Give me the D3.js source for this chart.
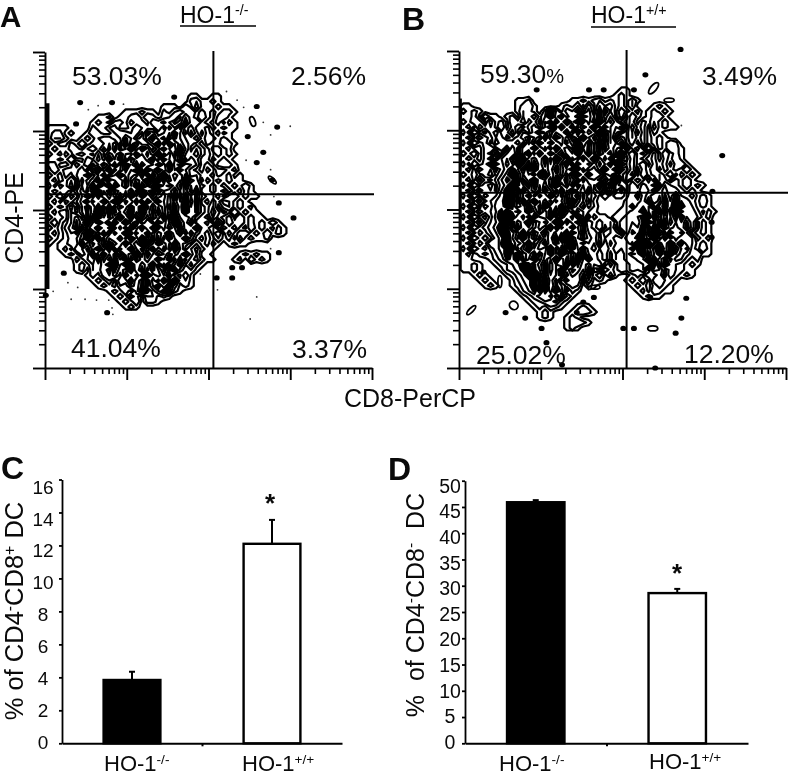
<!DOCTYPE html>
<html><head><meta charset="utf-8">
<script src="https://cdn.jsdelivr.net/npm/d3@7/dist/d3.min.js"></script>
<style>html,body{margin:0;padding:0;background:#fff}svg{display:block;filter:blur(.35px)}text{font-family:"Liberation Sans",Arial,sans-serif;fill:#0a0a0a}</style>
</head><body><svg id="c" width="788" height="776"></svg>
<script>
// ---------- flow cytometry density grids (digit = relative density per cell)
const gridA=[
"",
"00000000000000000000000000110011",
"00000000000000000000000000231121",
"0000000000000000000001110314111211",
"00000000000000111211021352312101221",
"0000000001120112313212351521310231",
"00000000121022142215463127231012021",
"11110000211341125322516372411201211",
"12201001321135434176233851620212010",
"13310012134423751268461753241221210",
"21002131223361847225918364210211321",
"12112213526271394861473295131022120",
"21021342151647328574926183241012121",
"11213114362958174369285371420021210",
"22001425137482961735849216530102321",
"13122250694813758296147385210210012",
"210213472581396427185936472311201201",
"1201316249175382649718253964021212110",
"20214053816294738152967418352101012131",
"121103627958143729681547362811012010210",
"2130215948362719583746291857311202312110",
"1202136175948263917485263948102143121",
"21214058392716485927361849572130231212",
"120031574928136859471628395721420131211",
"2110362819574938162748195362103124131211",
"1301374951628394715286397481120415231212131",
"21024816395726184937261584391130424103121021",
"12013159748263917582649381721025141231213121",
"21012368491537284961728539412013120412112",
"1011329475186394271586394213102101211",
"0012053168492759316847295136211",
"00012142938571649285137648251100000121211",
"00000213406285917463958271462110001203121",
"00000121324795183649271583621",
"0000012032517469382751694231",
"000000012143628571946382151",
"000000001213054937162849231",
"000000000121032647159384121",
"00000000000121304962587210",
"00000000000012142033121",
"000000000000012130221",
"00000000000000121"];
const gridB=[
"00000000000000000000000000000110",
"0000000000000000000000000000121",
"0000000000112000000011212312121310",
"110000000012310000121304153412130001210",
"2121000000132102951437261803152120121210",
"112031101203241394725186372514031012310",
"2132041203241205173948261937401202131210",
"1204231302102415928371649285360412041211",
"2031024114031496253817264915201302021",
"12042132012475193862749316050213120121",
"2031204232417295836149372815361202012132",
"12002313041659371846295738142061203021321",
"213021403516928374165938274619251202031210",
"121024035179463829517483926150141012021310",
"2031204263951847362918574138062413021202310",
"12042302485179364825917462839014021302121310",
"21012413697351894627183956240136031231302121",
"12041025768149352967418352619041214032021310",
"203124146975183629471856392710031424053213121",
"12042315871946285173964825061403253046342121",
"2031423679158263947158264131221304253748324121",
"1204135687194836275196372111112324052859342131",
"2031426597248319658274163111113043516769053121",
"12042358167395148296175321111324405718296342021",
"2031026879361954827361504221324358192637054312",
"1204135781649257391846052423143547961825374021",
"2031246971835264917583042513043658291746384021",
"1202135876291748365914035143204768196285730121",
"2031214695183726491873024132436587491726353012",
"1202153786429158376194635041354719826394843121",
"2031024679158364927185046352435187269481572131",
"1201213586924715839627034241324769158293642311",
"11000124768159263847195052413243651947265212",
"11210012356971482539174635041324356829432121",
"1121000134679138259476381052132435065143211",
"0012100012468917358264172514100121324052121",
"0001210001356829471635051210001213043321",
"0000121001246819375243021000000121024210",
"0000000000135718496021000000000012032110",
"00000000000124657183100000000000012110",
"00000000000012354621",
"000000000000012132100121",
"0000000000000012100012321",
"00000000000000121001210",
"000000000000000000012321",
"00000000000000000001210"];
const contourLevels=[0.5,1.5,3,5,6.5];
const solidLevel=6.5;
// isolated events, log10 units [CD8, CD4]
const blobsA=[[.43,3.36],[.82,3.36],[1.58,3.43],[2.59,3.31],[.38,3.09],[2.84,3.05],[2.48,2.93],[2.67,2.73],[2.59,2.6],[2.78,2.38],[2.86,2.09],[3.04,1.9],[2.86,1.46],[2.29,1.27],[2.41,1.27],[2.29,1.14],[2.1,1.14],[.23,1.2],[.76,.7],[.01,.92]];
const specksA=[[.53,3.27],[.65,3.32],[.96,3.34],[2.22,3.5],[2.35,3.39],[2.43,3.3],[2.67,3.11],[3,3.06],[2.76,2.95],[2.46,2.63],[2.76,2.51],[2.8,2.17],[2.76,1.51],[1.9,1.19],[1.82,1.21],[1.94,1.35],[2.11,.99],[2.59,.9],[2.51,.62],[.82,.76],[.83,.68],[.78,.86],[.63,.86],[.49,.87],[.32,.87],[.4,1.02],[.28,1.08],[.1,.97]];
const blobsB=[[2.71,4.02],[2.28,3.7],[.95,3.51],[1.59,3.51],[1.77,3.51],[2.14,3.51],[3.22,2.68],[3.1,2.23],[3.09,1.84],[3.09,1.65],[2.78,.88],[2.34,.89],[2.72,.63],[2.65,.44],[2.01,.5],[2.14,.5],[1.65,.89],[1.52,.83],[1.44,.7],[1.01,.5],[.81,.63],[.57,.7],[.3,1.21],[.24,2.03],[1.26,.04],[2.4,0],[1.07,.32]];
const specksB=[[2.72,3.06]];
const ovalsB=[[2.38,3.53,7,3,-50],[2.57,3.38,5,2,0],[2.37,.5,5,2.5,0],[1.67,1.02,4.5,2,0],[.15,.73,6,2,-45],[.5,1.09,2,6,0],[.67,.79,4.5,4,40]];
const ovalsA=[[2.54,3.12,2.5,5,-20],[2.78,2.38,5,2,45]];
const pileA=[[.03,3.35],[.03,1.0]], pileB=[[.02,3.4],[.02,2.6]];
const decades=[1,10,100,1000,10000];
const minorMult=[2,3,4,5,6,7,8,9];
const quadA=[2.06,2.2], quadB=[2.05,2.21];
const pctA=["53.03%","2.56%","41.04%","3.37%"], pctB=["59.30","3.49%","25.02%","12.20%"];
// ---------- bars
const groups=["HO-1-/-","HO-1+/+"];
const valuesC=[3.84,12.1], errC=[.5,1.45], ticksC=[0,2,4,6,8,10,12,14,16];
const valuesD=[45.9,28.6], errD=[.4,.8], ticksD=[0,5,10,15,20,25,30,35,40,45,50];

const svg=d3.select("#c");
function txt(parts,x,y,size,opt={}){
  const t=svg.append("text").attr("x",x).attr("y",y).attr("font-size",size)
    .attr("font-weight",opt.bold?"bold":null).attr("text-anchor",opt.anchor||"start");
  if(opt.rot!=null)t.attr("transform",`rotate(${opt.rot} ${x} ${y})`);
  let up=false;
  parts.forEach(p=>{const s=Array.isArray(p);const sp=t.append("tspan").text(s?p[0]:p);
    if(s){sp.attr("font-size",size*.62).attr("dy",-size*.33);up=true;}
    else if(up){sp.attr("dy",size*.33);up=false;}});
  return t;
}
function flow(cfg){
  const x=d3.scaleLog().domain([1,1e4]).range(cfg.xr), y=d3.scaleLog().domain([1,1e4]).range(cfg.yr);
  const g=svg.append("g");
  const n=cfg.cols,m=cfg.grid.length,step=1/15;
  const vals=[];cfg.grid.forEach(r=>{const s=r.padEnd(n,"0").slice(0,n);for(const ch of s)vals.push(+ch);});
  const path=d3.geoPath(d3.geoTransform({point(a,b){this.stream.point(x(10**(cfg.x0+a*step)),y(10**(cfg.y0-b*step)));}}));
  g.selectAll("path.ct").data(d3.contours().size([n,m]).thresholds(contourLevels)(vals)).join("path")
    .attr("class","ct").attr("d",path).attr("fill",d=>d.value>=solidLevel?"#000":"none").attr("stroke","#000").attr("stroke-width",2.2).attr("stroke-linejoin","round");
  g.selectAll("ellipse.b").data(cfg.blobs).join("ellipse").attr("class","b")
    .attr("cx",d=>x(10**d[0])).attr("cy",d=>y(10**d[1])).attr("rx",3).attr("ry",2.6).attr("fill","#000");
  g.selectAll("circle.s").data(cfg.specks).join("circle").attr("class","s")
    .attr("cx",d=>x(10**d[0])).attr("cy",d=>y(10**d[1])).attr("r",.9).attr("fill","#333");
  g.selectAll("ellipse.o").data(cfg.ovals).join("ellipse").attr("class","o")
    .attr("transform",d=>`translate(${x(10**d[0])},${y(10**d[1])}) rotate(${d[4]})`)
    .attr("rx",d=>d[2]).attr("ry",d=>d[3]).attr("fill","none").attr("stroke","#000").attr("stroke-width",1.8);
  g.append("line").attr("x1",x(10**cfg.pile[0][0])).attr("x2",x(10**cfg.pile[1][0])).attr("y1",y(10**cfg.pile[0][1])).attr("y2",y(10**cfg.pile[1][1])).attr("stroke","#000").attr("stroke-width",cfg.pileW);
  const minors=decades.slice(0,4).flatMap(d=>minorMult.map(k=>d*k));
  const style=(s,w)=>s.selectAll("path,line").attr("stroke","#000").attr("stroke-width",w);
  [[()=>d3.axisBottom(x),`translate(0,${cfg.yr[0]})`],[()=>d3.axisLeft(y),`translate(${cfg.xr[0]},0)`]].forEach(([mk,tr])=>{
    const gM=svg.append("g").attr("transform",tr).call(mk().tickValues(decades).tickSize(12).tickSizeOuter(0).tickFormat(""));
    const gm=svg.append("g").attr("transform",tr).call(mk().tickValues(minors).tickSize(6).tickSizeOuter(0).tickFormat(""));
    gm.select(".domain").remove();
    style(gM,1.9);style(gm,1.6);
  });
  const qx=x(10**cfg.quad[0]),qy=y(10**cfg.quad[1]);
  svg.append("line").attr("x1",qx).attr("x2",qx).attr("y1",cfg.yr[1]-1).attr("y2",cfg.yr[0]).attr("stroke","#000").attr("stroke-width",2);
  svg.append("line").attr("x1",cfg.xr[0]).attr("x2",cfg.xr[1]+2).attr("y1",qy).attr("y2",qy).attr("stroke","#000").attr("stroke-width",2);
}
flow({grid:gridA,cols:45,x0:.02,y0:3.54,xr:[45,372],yr:[368,52],blobs:blobsA,specks:specksA,ovals:ovalsA,pile:pileA,pileW:4,quad:quadA});
flow({grid:gridB,cols:47,x0:.02,y0:3.54,xr:[459,786],yr:[368,51],blobs:blobsB,specks:specksB,ovals:ovalsB,pile:pileB,pileW:2.5,quad:quadB});

// panel text
txt(["A"],0,27,29.5,{bold:1}); txt(["B"],402,30,32,{bold:1});
txt(["C"],1,479,32,{bold:1}); txt(["D"],388,480,32,{bold:1});
txt(["HO-1",["-/-"]],180,23,23); txt(["HO-1",["+/+"]],591,23,23);
svg.append("line").attr("x1",180).attr("x2",256).attr("y1",26).attr("y2",26).attr("stroke","#000").attr("stroke-width",1.6);
svg.append("line").attr("x1",591).attr("x2",676).attr("y1",27).attr("y2",27).attr("stroke","#000").attr("stroke-width",1.6);
txt([pctA[0]],72,85,26.5);txt([pctA[1]],291,85,26.5);txt([pctA[2]],71,357,26.5);txt([pctA[3]],292,358,26.5);
const p59=txt([pctB[0]],480,83,26.5);p59.append("tspan").text("%").attr("font-size",20);
txt([pctB[1]],702,85,26.5);txt([pctB[2]],476,364,26.5);txt([pctB[3]],684,363,26.5);
txt(["CD4-PE"],23,218,25,{rot:-90,anchor:"middle"});
txt(["CD8-PerCP"],410,407,25,{anchor:"middle"});

function bars(cfg){
  const x=d3.scaleBand().domain(groups).range(cfg.xr).paddingInner(.58).paddingOuter(.29);
  const y=d3.scaleLinear().domain([0,cfg.ticks[cfg.ticks.length-1]]).range(cfg.yr);
  const yl=d3.scaleLinear().domain(y.domain()).range(cfg.labelR);
  const ax=svg.append("g").attr("transform",`translate(${cfg.xr[0]},0)`).call(d3.axisLeft(y).tickValues(cfg.ticks).tickSize(3).tickSizeOuter(0).tickFormat(""));
  ax.selectAll("path,line").attr("stroke","#000").attr("stroke-width",1.8);
  const ab=svg.append("g").attr("transform",`translate(0,${cfg.yr[0]})`).call(d3.axisBottom(d3.scaleLinear().domain([0,1]).range(cfg.xr)).tickValues([.5]).tickSize(3).tickSizeOuter(0).tickFormat(""));
  ab.selectAll("path,line").attr("stroke","#000").attr("stroke-width",2);
  const cx=d=>x(d)+x.bandwidth()/2;
  groups.forEach((g,i)=>{
    const v=cfg.values[i],e=v+cfg.err[i];
    svg.append("line").attr("x1",cx(g)).attr("x2",cx(g)).attr("y1",y(v)).attr("y2",y(e)).attr("stroke","#000").attr("stroke-width",2);
    svg.append("line").attr("x1",cx(g)-3).attr("x2",cx(g)+3).attr("y1",y(e)).attr("y2",y(e)).attr("stroke","#000").attr("stroke-width",2);
    svg.append("rect").attr("x",x(g)+1).attr("width",x.bandwidth()-2).attr("y",y(v)).attr("height",y(0)-y(v))
      .attr("fill",i?"#fff":"#000").attr("stroke","#000").attr("stroke-width",2.4);
    txt([g.slice(0,4),[g.slice(4)]],cfg.labX[i],cfg.labY[i],cfg.labS);
  });
  cfg.ticks.forEach(t=>svg.append("text").text(t).attr("x",cfg.tickX).attr("y",yl(t)).attr("dy",".35em").attr("text-anchor","middle").attr("font-size",cfg.tickS));
  svg.append("text").text("*").attr("x",cfg.star[0]).attr("y",cfg.star[1]).attr("text-anchor","middle").attr("font-size",26).attr("font-weight","bold");
}
bars({xr:[62,342],yr:[743.3,479.5],labelR:[742,487],ticks:ticksC,values:valuesC,err:errC,tickX:43,tickS:19,labX:[104,242],labY:[771,771],labS:22,star:[270,512]});
bars({xr:[465,748],yr:[743.3,480.7],labelR:[742,486],ticks:ticksD,values:valuesD,err:errD,tickX:450,tickS:19.5,labX:[499,649],labY:[771,769],labS:22,star:[677,582]});
txt(["% of CD4",["-"],"CD8",["+"]," DC"],23.2,611,25.5,{rot:-90,anchor:"middle"});
txt(["%  of CD4",["-"],"CD8",["-"],"  DC"],424,605,25,{rot:-90,anchor:"middle"}).style("white-space","pre");
</script></body></html>
